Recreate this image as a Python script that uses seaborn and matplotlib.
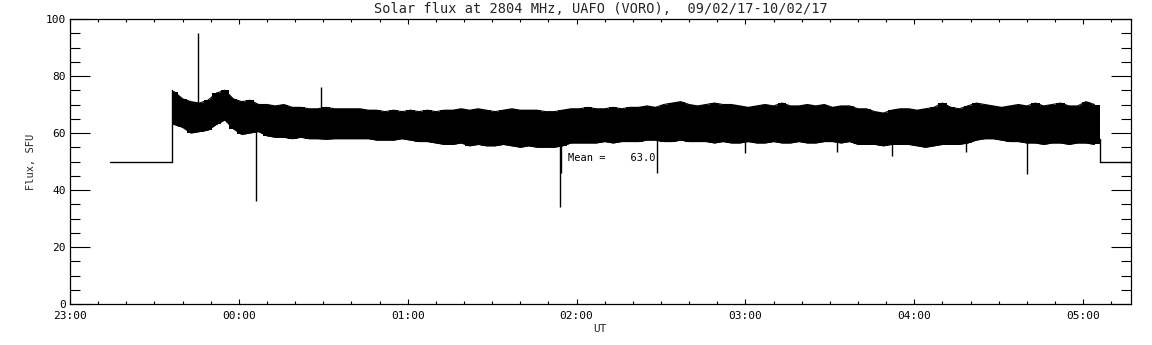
import numpy as np
import pandas as pd
import matplotlib
matplotlib.use("Agg")
import matplotlib.pyplot as plt
import seaborn as sns

# ---- data (minutes after 23:00 UT) ----
band_start_min = 37
band_step_min = 3
band_upper = [74.5, 72, 71, 70.5, 71.5, 74, 75, 72, 71, 71.5, 70, 70, 69.5, 70, 69, 69, 68.5, 68.5, 69, 68.5, 68.5, 68.5,
              68.5, 68, 68, 67.5, 68, 67.5, 68, 67.5, 68, 67.5, 68, 68, 68.5, 68, 68.5, 68, 67.5, 68, 68.5, 68, 68, 68,
              67.5, 67.5, 68, 68.5, 68.5, 69, 68.5, 68.5, 69, 68.5, 69, 69, 69.5, 69, 70, 70.5, 71, 70, 69.5, 70, 70.5, 70,
              70, 69.5, 69, 69.5, 70, 69.5, 70.5, 69.5, 69.5, 70, 69.5, 70, 69, 69.5, 69.5, 68.5, 68.5, 67.5, 67, 68, 68.5, 68.5,
              68, 68.5, 69, 70.5, 69, 68.5, 69.5, 70.5, 70, 69.5, 69, 69.5, 70, 69.5, 70.5, 69.5, 70, 70.5, 69.5, 69.5, 71, 70]
band_lower = [63, 62, 60, 60.5, 61, 63, 64.6, 61.5, 59.5, 60, 60.5, 59, 58.5, 58.5, 58, 58.5, 58, 58, 57.8, 58, 58, 58,
              58, 58, 57.5, 57.5, 57.5, 58, 57.5, 57, 57, 56.5, 56, 56, 56.5, 55.5, 56, 55.5, 55.5, 56, 55.5, 55, 55.5, 55,
              55, 55, 55.5, 56.5, 56.5, 56.5, 56.5, 57, 56.5, 57, 57, 57, 57.5, 57.5, 57, 57, 57.5, 57, 57, 57, 56.5, 57,
              56.5, 56.5, 57, 56.5, 56.5, 57, 56.5, 56.5, 57, 56.5, 56.5, 57, 57, 56.5, 57, 56, 56, 56, 55.5, 56, 56, 56,
              55.5, 55, 55.5, 56, 56, 56, 56.5, 57.5, 58, 58, 57.5, 57, 57, 56.5, 56.5, 56, 56.5, 56.5, 56, 56.5, 56.5, 56]

flat_pre_t = [14.2, 36.4]
flat_post_t = [366.0, 380.0]
flat_level = 50.0
jump_start = [50.0, 75.0]
jump_end = [58.0, 50.0]

spike_t = [45.6, 66.0, 89.1, 174.1, 174.6, 208.5, 240.0, 272.7, 292.0, 318.3, 340.2]
spike_lo = [68, 36, 68, 34, 46, 46, 53, 53.4, 52, 53.3, 45.6]
spike_hi = [95, 64, 76, 60, 60, 62, 60, 60, 60, 60, 60]

tick_labels = ["23:00", "00:00", "01:00", "02:00", "03:00", "04:00", "05:00"]
mean_text = "Mean =    63.0"
mean_pos = (176.8, 51.2)

# ---- figure ----
sns.set_theme(style="ticks")
plt.rcParams['font.family'] = ['DejaVu Sans Mono', 'DejaVu Sans']
fig = plt.figure(figsize=(11.52, 3.45), dpi=100)
ax = fig.add_axes([70 / 1152, 1 - 304 / 345, (1131 - 70) / 1152, (304 - 19) / 345])

n = len(band_upper)
times = band_start_min + band_step_min * np.arange(n)
df = pd.DataFrame({"t": times, "upper": band_upper, "lower": band_lower})

# noisy band: linear envelope plus stepped envelope for a ragged edge
ax.fill_between(df["t"], df["lower"], df["upper"], color="black", lw=0)
ax.fill_between(df["t"], df["lower"], df["upper"], step="mid", color="black", lw=0)
sns.lineplot(data=df, x="t", y="upper", ax=ax, color="black", lw=0.8)
sns.lineplot(data=df, x="t", y="lower", ax=ax, color="black", lw=0.8)

lw = 1.0
ax.plot(flat_pre_t, [flat_level] * 2, color="black", lw=lw)
ax.plot([flat_pre_t[1]] * 2, jump_start, color="black", lw=lw)
ax.fill_between([flat_pre_t[1], times[0]], [band_lower[0]] * 2, [jump_start[1], band_upper[0]], color="black", lw=0)
ax.plot([flat_post_t[0]] * 2, jump_end, color="black", lw=lw)
ax.fill_between([times[-1], flat_post_t[0]], [band_lower[-1]] * 2, [band_upper[-1]] * 2, color="black", lw=0)
ax.plot(flat_post_t, [flat_level] * 2, color="black", lw=lw)
ax.vlines(spike_t, spike_lo, spike_hi, color="black", lw=lw)

ax.text(mean_pos[0], mean_pos[1], mean_text, fontsize=7.5, color="black", va="center", ha="left")

ax.set_xlim(0, 377)
ax.set_ylim(0, 100)
ax.set_xticks(np.arange(len(tick_labels)) * 60)
ax.set_xticklabels(tick_labels)
ax.set_xticks(np.arange(0, 377, 10), minor=True)
ax.set_yticks(np.arange(0, 101, 20))
ax.set_yticks(np.arange(0, 101, 5), minor=True)
ax.tick_params(axis="both", which="both", direction="in", top=True, right=True,
               colors="black", labelsize=8, width=0.8)
ax.tick_params(axis="x", which="major", length=3.6, pad=5)
ax.tick_params(axis="x", which="minor", length=2.2)
ax.tick_params(axis="y", which="major", length=14.4, pad=3)
ax.tick_params(axis="y", which="minor", length=7.2)
for s in ax.spines.values():
    s.set_linewidth(0.9)
    s.set_color("black")

ax.set_xlabel("UT", fontsize=8, labelpad=2)
ax.set_ylabel("Flux, SFU", fontsize=7.5, labelpad=7)
ax.set_title("Solar flux at 2804 MHz, UAFO (VORO),  09/02/17-10/02/17", fontsize=9.8, pad=4)

fig.savefig("out.png", dpi=100, facecolor="white")
